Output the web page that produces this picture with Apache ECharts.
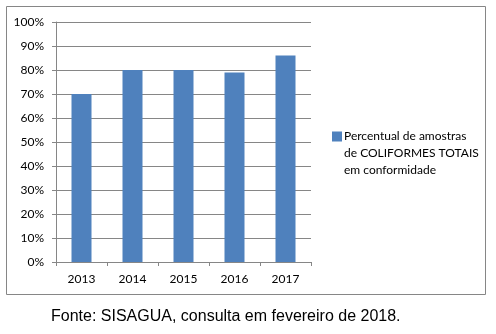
<!DOCTYPE html>
<html>
<head>
<meta charset="utf-8">
<script src="https://cdn.jsdelivr.net/npm/echarts@6/dist/echarts.min.js"></script>
<style>
  html, body { margin: 0; padding: 0; background: #fff; }
  #chart { width: 496px; height: 334px; }
</style>
</head>
<body>
<div id="chart"></div>
<script>
// Percentual de amostras de coliformes totais em conformidade, 2013–2017
const years = ['2013', '2014', '2015', '2016', '2017'];
const conformidade = [70, 80, 80, 79, 86];
const yTicks = [0, 10, 20, 30, 40, 50, 60, 70, 80, 90, 100];
const seriesName = 'Percentual de amostras\nde COLIFORMES TOTAIS\nem conformidade';
const fonte = 'Fonte: SISAGUA, consulta em fevereiro de 2018.';

const chart = echarts.init(document.getElementById('chart'), null, { renderer: 'canvas' });

const axisFont = { fontFamily: 'Lato', fontSize: 12, color: '#000' };

chart.setOption({
  animation: false,
  backgroundColor: '#fff',
  title: {
    text: fonte,
    left: 51,
    top: 309,
    padding: 0,
    textStyle: { fontFamily: 'Liberation Sans', fontSize: 16, fontWeight: 'normal', color: '#000' }
  },
  graphic: [{
    type: 'rect',
    shape: { x: 6.5, y: 6.5, width: 479, height: 288 },
    style: { fill: 'none', stroke: '#868686', lineWidth: 1 },
    z: -1
  }],
  grid: { left: 56, right: 185, top: 22, bottom: 72 },
  legend: {
    left: 332,
    top: 128,
    padding: 0,
    orient: 'vertical',
    itemWidth: 10,
    itemHeight: 51,
    itemGap: 0,
    // square aligned with the first text line
    icon: 'path://M0,0H0.01V0.01H0Z M0,3.5H10V13.5H0Z M9.99,50.99H10V51H9.99Z',
    textStyle: { fontFamily: 'Lato', fontSize: 12, lineHeight: 17, color: '#000', padding: [0, 0, 0, -3] },
    data: [seriesName]
  },
  xAxis: {
    type: 'category',
    data: years,
    axisLine: { lineStyle: { color: '#868686' } },
    axisTick: { show: true, length: 4, lineStyle: { color: '#868686' } },
    axisLabel: Object.assign({ margin: 11 }, axisFont)
  },
  yAxis: {
    type: 'value',
    min: yTicks[0],
    max: yTicks[yTicks.length - 1],
    interval: yTicks[1] - yTicks[0],
    axisLine: { show: true, lineStyle: { color: '#868686' } },
    axisTick: { show: true, length: 4, lineStyle: { color: '#868686' } },
    splitLine: { lineStyle: { color: '#868686' } },
    axisLabel: Object.assign({ margin: 12, formatter: v => v + '%' }, axisFont)
  },
  series: [{
    name: seriesName,
    type: 'bar',
    data: conformidade,
    barWidth: 20,
    itemStyle: { color: '#4F81BD' }
  }]
});
</script>
</body>
</html>
